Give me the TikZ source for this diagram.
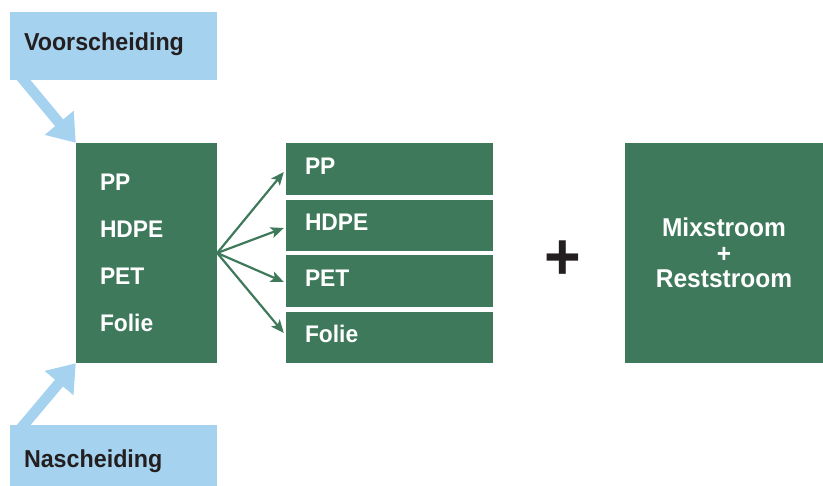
\documentclass[tikz,border=0pt]{standalone}
\usepackage{fontspec}
\setmainfont{Liberation Sans}[FakeStretch=0.95]
\usetikzlibrary{arrows.meta,calc}
\pgfdeclarelayer{background}
\pgfsetlayers{background,main}
\definecolor{boxgreen}{HTML}{3E795B}
\definecolor{lblue}{HTML}{A5D3EF}
\definecolor{darktext}{HTML}{231F20}
\begin{document}
\begin{tikzpicture}[x=1pt,y=-1pt,
  greenbox/.style={fill=boxgreen, draw=none, inner ysep=0pt, text=white,
    font=\bfseries\fontsize{24}{28}\selectfont},
  bluebox/.style={fill=lblue, draw=none, inner ysep=0pt, inner xsep=14pt, text=darktext,
    minimum width=207pt, text width=179pt, align=left,
    font=\bfseries\fontsize{24.5}{30}\selectfont},
  stripbox/.style={greenbox, minimum width=207pt, inner xsep=19pt, text width=169pt,
    align=left, text height=17pt, text depth=6pt},
  bluearrow/.style={draw=lblue, line width=10.5pt, -{Triangle[length=26pt,width=36pt]}},
  greenarrow/.style={draw=boxgreen, line width=2.2pt, -{Stealth[length=13pt,width=11pt,inset=3pt]}},
]
\useasboundingbox (0,0) rectangle (823,486);

% boxes
\node[bluebox, minimum height=68pt, text height=18pt, text depth=8pt] (voor) at (113.5,46) {Voorscheiding};
\node[bluebox, minimum height=61pt, text height=28pt, text depth=3pt] (nas) at (113.5,455.5) {Nascheiding};

\node[greenbox, minimum width=141pt, minimum height=220pt, inner xsep=24pt, text width=93pt,
  align=left, font=\bfseries\fontsize{24}{47}\selectfont] (src) at (146.5,253)
  {PP\\HDPE\\PET\\Folie};

\node[stripbox, minimum height=52pt] (pp) at (389.5,169) {PP};
\node[stripbox, minimum height=51pt] (hdpe) at (389.5,225.5) {HDPE};
\node[stripbox, minimum height=52pt] (pet) at (389.5,281) {PET};
\node[stripbox, minimum height=51pt] (folie) at (389.5,337.5) {Folie};

\node[font=\bfseries\fontsize{66}{66}\selectfont, text=darktext, inner sep=0pt] (plus) at (563,260) {+};

\node[greenbox, minimum width=198pt, minimum height=220pt, align=center,
  font=\bfseries\fontsize{25.8}{25.5}\selectfont] (mix) at (724,253)
  {Mixstroom\\+\\Reststroom};

% blue arrows (behind the boxes)
\begin{pgfonlayer}{background}
\draw[bluearrow] ($(voor.south west)+(9,-6)$) -- (src.north west);
\draw[bluearrow] ($(nas.north west)+(9,6)$) -- (src.south west);
\end{pgfonlayer}

% green arrows
\draw[greenarrow] (src.east) -- ($(pp.west)+(-2,3)$);
\draw[greenarrow] (src.east) -- ($(hdpe.west)+(-2,2.5)$);
\draw[greenarrow] (src.east) -- ($(pet.west)+(-2,1)$);
\draw[greenarrow] (src.east) -- ($(folie.west)+(-2,-4.5)$);
\end{tikzpicture}
\end{document}
